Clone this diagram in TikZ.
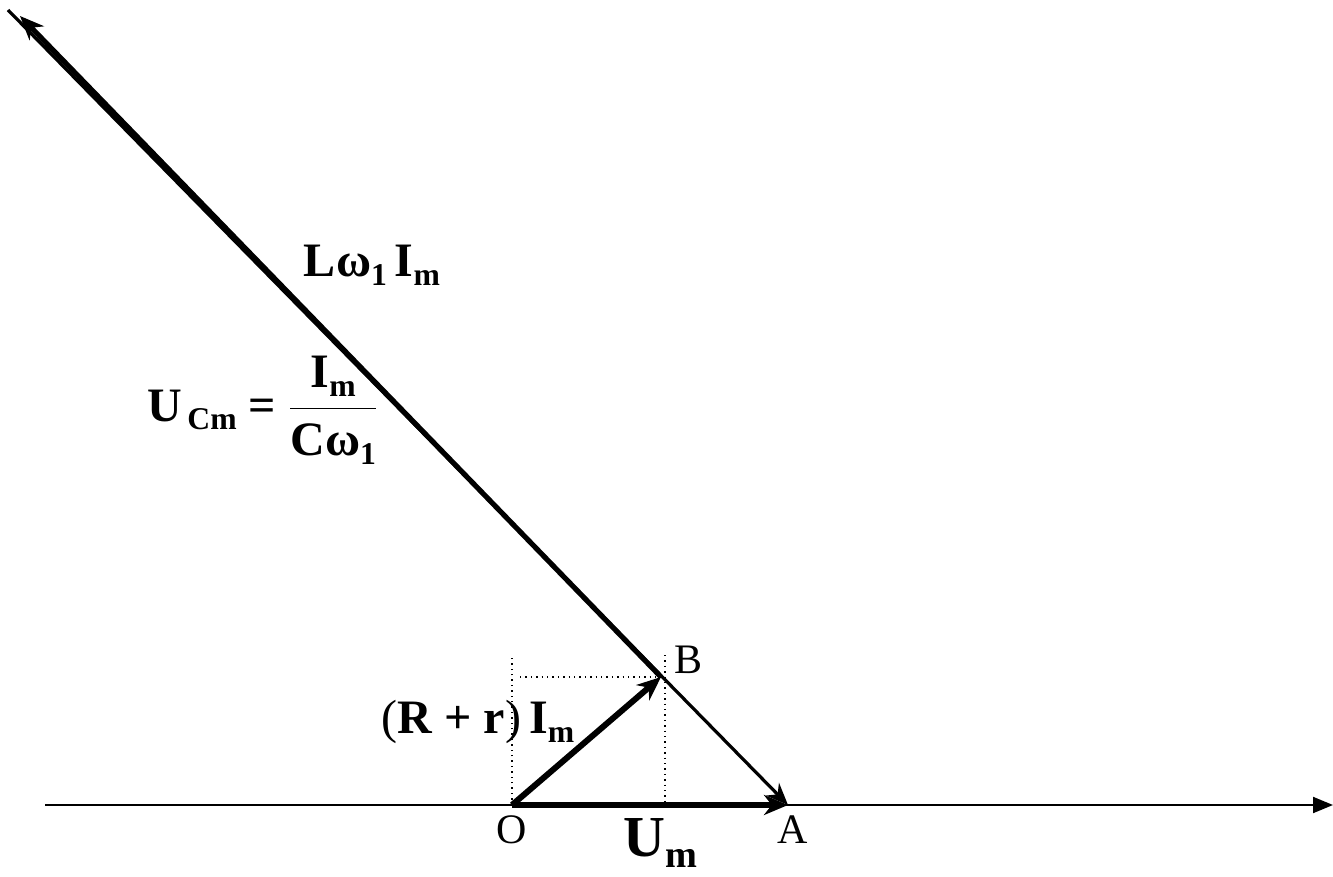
\documentclass[tikz,border=0pt]{standalone}
\usepackage{fontspec}
\setmainfont{Liberation Serif}
\usetikzlibrary{arrows.meta}
\newcommand\lowsub[1]{\raisebox{-0.4ex}{\scalebox{0.66}{#1}}}

\begin{document}
\begin{tikzpicture}[x=0.5pt,y=-0.5pt,
    axis/.style={line width=1pt,-{Triangle[length=10pt,width=8pt]}},
    vec/.style={line width=3pt,-{Stealth[length=12pt,width=10pt]}},
    thinvec/.style={line width=1.6pt,-{Stealth[length=11pt,width=9pt]}},
    guide/.style={dotted,line width=0.7pt},
    pt/.style={font=\fontsize{21}{24}\selectfont},
    lab/.style={font=\bfseries\fontsize{24}{28}\selectfont}]
  \useasboundingbox (0,0) rectangle (1333,877);
  % points of the diagram
  \coordinate (O) at (512,805);
  \coordinate (A) at (788,805);
  \coordinate (B) at (661,677);
  \coordinate (T) at (20,16);
  \coordinate (Tc) at (8,10);
  \coordinate (xl) at (45,805);
  \coordinate (xr) at (1333,805);
  \coordinate (Ot) at (512,657);
  \coordinate (Bh) at (520,677);
  \coordinate (Bt) at (665,655);
  \coordinate (Bf) at (665,805);
  % guides
  \draw[guide] (O) -- (Ot);
  \draw[guide] (Bh) -- (B);
  \draw[guide] (Bt) -- (Bf);
  % axis and vectors
  \draw[axis] (xl) -- (xr);
  \draw[thinvec] (Tc) -- (A);
  \draw[vec,line width=2.6pt] (B) -- (T);
  \draw[vec] (O) -- (A);
  \draw[vec] (O) -- (B);
  % labels
  \node[pt] (lO) at (512,830) {O};
  \node[pt] (lA) at (793,830) {A};
  \node[pt] (lB) at (688,660) {B};
  \node[lab] (lL) at (372,265) {Lω\lowsub{1}\,I\lowsub{m}};
  \node[lab] (lC) at (263,410)
    {U\lowsub{\,Cm} = $\displaystyle\frac{\mbox{I\lowsub{m}}}{\mbox{Cω\lowsub{1}}}$};
  \node[lab] (lR) at (478,722) {{\mdseries(}R + r{\mdseries)}\,I\lowsub{m}};
  \node[lab,font=\bfseries\fontsize{29}{32}\selectfont] (lU) at (660,843) {U\lowsub{m}};
\end{tikzpicture}
\end{document}
